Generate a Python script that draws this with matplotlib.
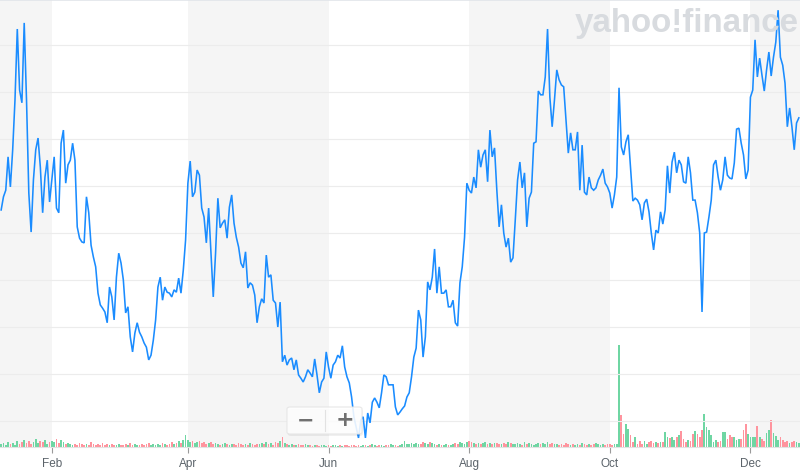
import matplotlib
matplotlib.use('Agg')
import matplotlib.pyplot as plt
import matplotlib.dates as mdates
from matplotlib.patches import FancyBboxPatch
from matplotlib.lines import Line2D
import numpy as np
import pandas as pd

# daily closing price, one value per day from 10 Jan
close = [
    5.49, 5.77, 5.91, 6.62, 5.98, 6.77, 7.83, 9.34, 8.04, 7.77, 9.47, 7.83, 5.85, 5.02, 6.13, 6.77,
    7.02, 6.40, 5.43, 6.19, 6.55, 5.66, 6.13, 6.62, 5.53, 5.43, 6.91, 7.19, 6.06, 6.45, 6.55, 6.91,
    6.55, 5.13, 4.89, 4.81, 4.79, 5.77, 5.43, 4.74, 4.49, 4.28, 3.72, 3.47, 3.40, 3.32, 3.09, 3.85,
    3.64, 3.15, 4.06,
    4.57, 4.36, 4.00, 3.30, 3.43, 2.79, 2.47, 2.87, 3.09, 2.89, 2.79, 2.66, 2.57, 2.30, 2.40, 2.72,
    3.15, 3.85, 4.06, 3.57, 3.85, 3.74, 3.72, 3.64, 3.79, 3.74, 4.04, 3.72, 4.21, 4.85, 6.06, 6.53,
    5.77, 5.87, 6.34, 6.23, 5.53, 5.34, 4.79, 5.53, 4.57, 3.64, 4.57, 5.74, 5.11, 5.21, 5.28, 4.89,
    5.55, 5.81,
    5.21, 4.91, 4.70, 4.36, 4.26, 4.60, 3.83, 3.94, 3.89, 3.68, 3.09, 3.43, 3.60, 3.51, 4.53, 4.06,
    4.11, 3.57, 3.51, 3.00, 3.53, 2.26, 2.40, 2.19, 2.30, 2.34, 2.09, 2.30, 1.98, 1.91, 1.83, 1.94,
    2.09, 2.02, 1.94, 2.32, 1.98, 1.60, 1.83, 1.91, 2.47, 2.15, 1.91, 2.19, 2.26, 2.40, 2.34, 2.60,
    2.15,
    1.94, 1.81, 1.51, 1.09, 0.87, 0.64, 1.02, 1.09, 0.64, 1.17, 0.96, 1.40, 1.49, 1.40, 1.28, 1.60,
    1.98, 1.94, 1.77, 1.77, 1.77, 1.30, 1.13, 1.19, 1.26, 1.32, 1.51, 1.60, 1.94, 2.36, 2.55, 3.36,
    3.15, 2.36, 2.79, 3.96, 3.79, 4.06, 4.66, 3.72, 4.28, 3.72, 3.72, 3.79, 3.43, 3.43, 3.57, 3.09,
    3.02, 3.94, 4.28, 4.91,
    6.06, 5.91, 5.85, 6.19, 5.96, 6.77, 6.40, 6.66, 6.77, 6.09, 7.19, 6.62, 6.81, 5.91, 5.13, 5.60,
    5.00, 4.70, 4.89, 4.38, 4.47, 5.28, 6.13, 6.51, 5.96, 6.28, 5.13, 5.74, 5.87, 6.91, 6.94, 8.02,
    7.94, 7.94, 8.32, 9.34, 7.89, 7.26, 7.83, 8.47, 8.26, 8.15, 8.11, 7.40, 6.70, 7.13, 6.77, 6.77,
    7.15,
    5.91, 6.87, 5.87, 5.81, 6.19, 5.96, 5.91, 5.96, 6.13, 6.23, 6.36, 6.06, 5.98, 5.85, 5.53, 5.81,
    6.19, 8.09, 6.83, 6.66, 6.94, 7.09, 6.40, 5.68, 5.74, 5.70, 5.60, 5.28, 5.64, 5.72, 5.45, 5.00,
    4.64, 5.06, 5.00, 5.45, 5.19, 5.49, 6.43, 5.85, 6.51, 6.72, 6.28, 6.55, 6.45, 6.09, 6.06, 6.62,
    6.28,
    5.70, 5.70, 5.43, 5.00, 3.32, 5.00, 5.02, 5.34, 5.70, 6.45, 6.55, 6.19, 5.91, 6.13, 6.62, 6.23,
    6.17, 6.15, 6.49, 7.21, 7.23, 6.91, 6.66, 6.15, 6.34, 7.89, 8.04, 9.11, 8.32, 8.72, 8.36, 8.02,
    8.47, 8.85, 8.34, 8.74, 9.06, 9.74, 8.74, 8.57, 8.19, 7.26, 7.66, 7.26, 6.77, 7.34, 7.45,
]

# daily volume (millions)
volume = [
    3, 4, 2, 5, 3, 4, 2, 6, 3, 5, 7, 4, 6, 3, 5, 8, 4, 6, 5, 7, 3, 5,
    6, 5, 8, 4, 7, 5, 3, 4, 3, 2, 3, 2, 4, 3, 2, 3, 2, 5, 3, 2, 3, 2, 4, 2, 3, 2, 3, 2,
    2, 3, 2, 2, 3, 2, 4, 2, 3, 2, 2, 3, 2, 3, 4, 2, 3, 2, 3, 2, 4, 3, 2, 3, 5, 3, 4, 6, 4, 7, 12,
    7, 5, 6, 4, 5, 6, 4, 5, 3, 4, 5, 3, 4, 3, 2, 3, 4, 3, 2, 3, 3, 2, 4, 3, 2, 3, 2, 4, 3, 2, 3,
    3, 4, 3, 5, 3, 4, 2, 5, 4, 6, 10, 4, 3, 2, 3, 2, 2, 3, 2, 2, 3, 2, 2, 1, 2, 2, 1, 2, 2, 1,
    2, 1, 2, 2, 1, 2, 1, 2, 2, 1, 2, 2, 1, 2, 1, 2, 2, 1, 2, 3, 2, 1, 2, 2, 1, 2, 2, 3, 2, 2, 1,
    2, 3, 6, 3, 3, 4, 3, 4, 3, 3, 5, 4, 3, 5, 4, 3, 2, 3, 2, 2, 3, 2, 2, 3, 4, 3, 5, 4, 3, 5, 6,
    5, 4, 3, 4, 3, 4, 5, 3, 4, 3, 4, 4, 3, 3, 4, 3, 5, 4, 3, 3, 4, 3, 2, 5, 3, 4, 3, 2, 3, 4, 3,
    4, 3, 5, 3, 4, 3, 3, 2, 3, 2, 4, 3, 2, 3, 2, 3, 2, 4, 3, 2, 3, 2, 3, 4, 3, 2, 3, 2, 3,
    3, 2, 3, 3, 102,
    32, 13, 23, 18, 12, 5, 10, 3, 6, 3, 6, 3, 5, 6, 4, 5, 4, 5, 5, 15, 10, 9, 10, 7, 10, 12,
    16, 8, 5, 7, 6, 13, 16, 13, 10, 17, 33, 20, 17, 12, 5, 7, 5, 6, 15, 15, 8, 12, 10, 10, 7, 8,
    8, 17, 23, 13, 10, 10, 10, 21, 10, 8, 6, 14, 17, 27, 14, 11, 7, 10, 7, 5, 6, 4, 5, 6, 5, 4,
]

dates = pd.date_range('2019-01-10', periods=len(close), freq='D')
tick_months = [2, 4, 6, 8, 10, 12]

LINE = '#1a8cff'
UP = '#6fd6a3'
DOWN = '#ff949e'
BAND = '#f5f5f5'
GRID = '#ececec'
LABEL = '#5b636a'


def draw_zoom_buttons(fig):
    """Little '- | +' control that sits over the chart."""
    W, H = fig.bbox.width, fig.bbox.height
    x0, x1, y0, y1 = 287, 362, 407, 434
    shadow = FancyBboxPatch((x0 / W + 0.001, 1 - (y1 + 2) / H), (x1 - x0) / W, (y1 - y0) / H,
                            boxstyle='round,pad=0,rounding_size=0.004', transform=fig.transFigure,
                            fc='#000000', ec='none', alpha=0.06, zorder=20)
    box = FancyBboxPatch((x0 / W, 1 - y1 / H), (x1 - x0) / W, (y1 - y0) / H,
                         boxstyle='round,pad=0,rounding_size=0.004', transform=fig.transFigure,
                         fc='white', ec='#e4e4e4', lw=0.8, alpha=0.88, zorder=21)
    fig.patches.extend([shadow, box])
    fig.lines.append(Line2D([325 / W, 325 / W], [1 - 431 / H, 1 - 410 / H], transform=fig.transFigure,
                            color='#e2e2e2', lw=0.8, zorder=22))
    fig.text(306 / W, 1 - 420.5 / H, '\u2212', ha='center', va='center', fontsize=15,
             fontweight='bold', color='#707070', zorder=23)
    fig.text(344.5 / W, 1 - 420.5 / H, '+', ha='center', va='center', fontsize=16,
             fontweight='bold', color='#707070', zorder=23)


def main():
    fig = plt.figure(figsize=(8, 4.7), dpi=100)
    rect = [0, 23 / 470, 1, 447 / 470]

    # volume axes at the back, with the month bands
    ax = fig.add_axes(rect)
    ax.set_facecolor('white')
    for start in pd.date_range('2018-12-01', '2020-01-01', freq='4MS'):
        ax.axvspan(start, start + pd.DateOffset(months=2), color=BAND, lw=0, zorder=0)

    prices = np.array(close)
    up = np.r_[True, prices[1:] >= prices[:-1]]
    colors = [UP if u else DOWN for u in up]
    ax.bar(dates, volume, width=0.75, color=colors, lw=0, zorder=2)
    ax.set_ylim(0, 447)
    ax.set_yticks([])

    half = pd.Timedelta(hours=12)
    ax.set_xlim(dates[0] - half, dates[-1] + half)
    ax.xaxis.set_major_locator(mdates.MonthLocator(bymonth=tick_months))
    ax.xaxis.set_major_formatter(mdates.DateFormatter('%b'))
    ax.tick_params(axis='x', length=4, width=0.8, color='#9a9a9a', labelsize=8.5,
                   labelcolor=LABEL, pad=4)
    for lab in ax.get_xticklabels():
        lab.set_fontfamily('Liberation Sans')
    for side in ['left', 'right', 'top']:
        ax.spines[side].set_visible(False)
    ax.spines['bottom'].set_color('#e3e3e3')
    ax.spines['bottom'].set_linewidth(0.8)

    # price axes on top
    axp = ax.twinx()
    axp.plot(dates, prices, color=LINE, lw=1.15, zorder=5, solid_joinstyle='miter')
    axp.set_ylim(0.447, 9.957)
    axp.set_yticks(np.arange(1, 10))
    axp.grid(axis='y', color=GRID, lw=0.8)
    axp.set_axisbelow(True)
    axp.tick_params(axis='y', length=0, labelright=False)
    for side in ['left', 'right', 'bottom']:
        axp.spines[side].set_visible(False)
    axp.spines['top'].set_color('#e1e5ea')
    axp.spines['top'].set_linewidth(1.2)

    fig.text(575 / 800, 1 - 32 / 470, 'yahoo!finance', ha='left', va='baseline',
             fontsize=23.9, fontweight='bold', color='#d8dbdf', family='Liberation Sans', zorder=0.5)

    draw_zoom_buttons(fig)
    fig.savefig('out.png', dpi=100)


if __name__ == '__main__':
    main()
